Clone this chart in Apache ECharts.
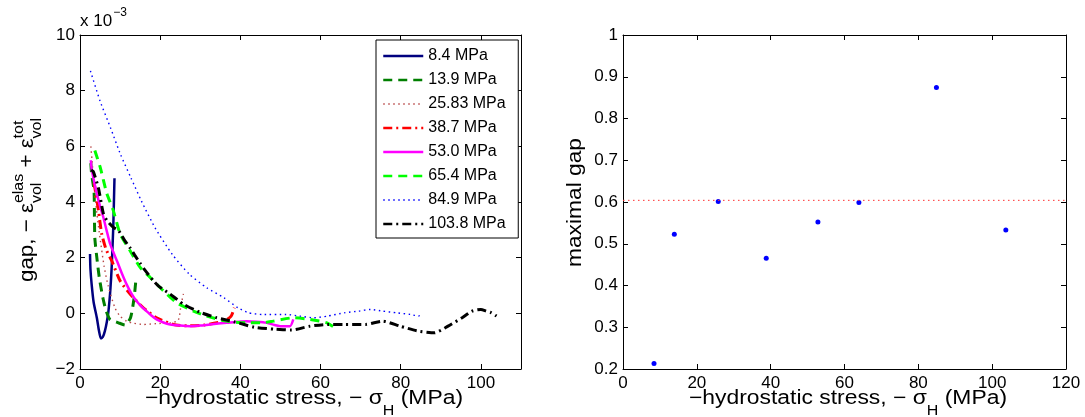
<!DOCTYPE html>
<html><head><meta charset="utf-8">
<script src="https://cdn.jsdelivr.net/npm/echarts@6/dist/echarts.min.js"></script>
<style>html,body{margin:0;padding:0;background:#fff}#c{width:1085px;height:417px}</style>
</head><body><div id="c"></div>
<script>
// ---------- data ----------
const seriesNames = ['8.4 MPa','13.9 MPa','25.83 MPa','38.7 MPa','53.0 MPa','65.4 MPa','84.9 MPa','103.8 MPa'];

const x84 = [2.5, 2.6, 2.9, 3.4, 4.2, 4.7, 5.2, 5.7, 6.2, 6.7, 7.1, 7.6, 7.9, 8.3, 8.6];
const y84 = [2.13, 1.6, 1.05, 0.4, -0.16, -0.6, -0.9, -0.85, -0.64, -0.3, 0.08, 0.9, 1.65, 3.1, 4.85];

const x139 = [2.7, 2.9, 3.5, 3.6, 3.7, 4.2, 4.8, 5.7, 6.5, 7.5, 9.6, 11.2, 12.6, 13.5, 14.0];
const y139 = [5.4, 5.0, 4.4, 3.5, 2.7, 2.0, 1.3, 0.56, 0.1, -0.22, -0.34, -0.42, -0.16, 0.56, 1.3];

const x2583 = [2.7, 3.0, 3.5, 4.2, 5.0, 6.0, 7.0, 8.7, 10.0, 11.6, 13.5, 15.8, 19.0, 22.5, 24.5, 25.2, 25.8];
const y2583 = [6.0, 5.5, 4.6, 3.6, 2.7, 1.7, 1.0, 0.2, -0.1, -0.28, -0.36, -0.4, -0.37, -0.34, -0.25, 0.3, 0.7];

const x387 = [3.5, 4.6, 5.4, 6.5, 7.9, 10.0, 12.5, 15.8, 19.1, 23.3, 27.0, 31.0, 35.9, 37.7, 38.5];
const y387 = [4.7, 3.7, 2.86, 2.3, 1.89, 1.17, 0.69, 0.2, -0.16, -0.4, -0.45, -0.42, -0.28, -0.1, 0.2];

const x530 = [2.7, 2.9, 3.5, 4.2, 5.0, 5.8, 6.6, 7.5, 8.3, 9.2, 10.4, 11.6, 12.8, 14.1, 15.3, 16.6, 17.8, 19.1, 20.8, 22.5, 25.0, 27.5, 30.0, 32.4, 36.6, 41.6, 44.0, 46.6, 48.5, 49.9, 52.4, 53.2];
const y530 = [5.5, 5.2, 4.75, 4.3, 3.85, 3.46, 3.0, 2.5, 2.2, 1.89, 1.45, 1.05, 0.72, 0.44, 0.25, 0.08, -0.08, -0.22, -0.33, -0.4, -0.44, -0.46, -0.44, -0.4, -0.34, -0.28, -0.3, -0.34, -0.42, -0.46, -0.46, -0.22];

const x654 = [3.7, 5.0, 6.7, 8.3, 10.0, 12.5, 15.0, 17.5, 20.8, 24.1, 28.3, 31.6, 36.6, 41.6, 45.4, 48.2, 53.2, 57.4, 61.6, 64.1];
const y654 = [5.85, 5.27, 4.3, 3.7, 2.86, 2.25, 1.65, 1.29, 0.81, 0.38, 0.08, -0.1, -0.28, -0.34, -0.34, -0.28, -0.16, -0.22, -0.34, -0.57];

const x849 = [2.6, 5.0, 7.6, 10.1, 12.7, 15.3, 18.7, 23.0, 27.3, 31.6, 35.9, 39.4, 42.0, 45.4, 51.4, 54.9, 58.3, 61.7, 66.0, 69.5, 72.5, 75.5, 78.9, 82.4, 84.5, 84.9];
const y849 = [8.71, 7.63, 6.67, 5.71, 4.87, 4.04, 3.08, 2.12, 1.4, 0.92, 0.56, 0.2, 0.02, -0.04, -0.04, -0.1, -0.16, -0.1, 0.02, 0.08, 0.14, 0.08, 0.02, -0.04, -0.1, 0.02];

const x1038 = [2.8, 3.3, 4.6, 5.8, 6.7, 8.4, 9.6, 11.0, 12.5, 13.6, 15.0, 16.2, 18.3, 19.6, 22.5, 25.8, 29.9, 34.1, 38.4, 43.5, 48.5, 52.8, 57.4, 61.7, 66.0, 71.2, 75.5, 79.8, 84.1, 88.4, 91.8, 95.3, 97.8, 100.0, 101.3, 102.6, 103.9];
const y1038 = [5.15, 5.1, 4.5, 3.6, 3.34, 3.08, 2.98, 2.65, 2.35, 2.1, 1.8, 1.55, 1.17, 0.98, 0.69, 0.33, 0.04, -0.16, -0.3, -0.5, -0.57, -0.6, -0.46, -0.4, -0.4, -0.4, -0.28, -0.46, -0.63, -0.7, -0.46, -0.16, 0.08, 0.14, 0.08, 0.02, -0.1];

const maxGapX = [8.4, 13.9, 25.8, 38.8, 52.8, 63.9, 84.9, 103.7];
const maxGapY = [0.213, 0.523, 0.601, 0.465, 0.552, 0.599, 0.874, 0.533];
const refLineX = [0, 120];
const refLineY = [0.604, 0.604];

// ---------- styles ----------
const FF = '"Liberation Sans", Arial, Helvetica, sans-serif';
const curveX = [x84, x139, x2583, x387, x530, x654, x849, x1038];
const curveY = [y84, y139, y2583, y387, y530, y654, y849, y1038];
const colors = ['#00007f', '#007f00', '#b84848', '#ff0000', '#ff00ff', '#00ff00', '#0000ff', '#000000'];
const dashes = ['solid', [9, 6], [1.5, 3.5], [9, 4, 2, 4], 'solid', [9, 6], [1.5, 3.5], [9, 4, 2, 4]];
const widths = [2.5, 3, 1.4, 3, 2.5, 3, 1.4, 3];

const zip = (xs, ys) => xs.map((x, i) => [x, ys[i]]);

const mctx = document.createElement('canvas').getContext('2d');
function tw(t, s) { mctx.font = s + 'px ' + FF; return mctx.measureText(t).width; }
function T(text, x, y, s, align) {
  return { type: 'text', x: x, y: y, silent: true,
    style: { text: text, fontSize: s, fontFamily: FF, fill: '#000',
      align: align || 'left', verticalAlign: 'middle', textAlign: align || 'left', textVerticalAlign: 'middle' } };
}
function xTitle(cx, cy, targetW) {
  const a = '−hydrostatic stress, − σ', b = 'H', c = ' (MPa)';
  const M = 20, S = 14;
  const wa = tw(a, M), wb = tw(b, S), wc = tw(c, M);
  const sc = targetW / (wa + wb + wc);
  return { type: 'group', x: cx - targetW / 2, y: cy, scaleX: sc,
    children: [T(a, 0, 0, M), T(b, wa, 12, S), T(c, wa + wb, 0, M)] };
}
function yTitleLeft() {
  const M = 21, S = 15;
  const p1 = 'gap, − ε', p2 = 'elas', p3 = 'vol', p4 = ' + ε', p5 = 'tot', p6 = 'vol';
  const w1 = tw(p1, M), w23 = Math.max(tw(p2, S), tw(p3, S)), w4 = tw(p4, M), w56 = Math.max(tw(p5, S), tw(p6, S));
  const sc = 164 / (w1 + w23 + w4 + w56);
  const sup = -9.1, sub = 9.5;
  return { type: 'group', x: 27.5, y: 282, rotation: Math.PI / 2, scaleX: sc,
    children: [T(p1, 0, 0, M), T(p2, w1, sup, S), T(p3, w1, sub, S),
      T(p4, w1 + w23, 0, M), T(p5, w1 + w23 + w4, sup, S), T(p6, w1 + w23 + w4, sub, S)] };
}
function yTitleRight() {
  const M = 21, t = 'maximal gap';
  const sc = 129 / tw(t, M);
  return { type: 'group', x: 575.5, y: 202.5, rotation: Math.PI / 2, scaleX: sc,
    children: [T(t, 0, 0, M, 'center')] };
}
const multW = tw('x 10', 17);

const minus = v => String(v).replace('-', '−');
function ax(extra) {
  const base = {
    type: 'value',
    axisLine: { show: true, onZero: false, lineStyle: { color: '#000', width: 1 } },
    axisTick: { show: true, inside: true, length: 5, lineStyle: { color: '#000', width: 1 } },
    splitLine: { show: false },
    axisLabel: { show: true, color: '#000', fontSize: 17, fontFamily: FF, margin: 6, formatter: minus }
  };
  const o = Object.assign({}, base, extra);
  if (extra.axisLabel) o.axisLabel = Object.assign({}, base.axisLabel, extra.axisLabel);
  return o;
}

const lineSeries = seriesNames.map((name, i) => ({
  name: name, type: 'line', xAxisIndex: 0, yAxisIndex: 0,
  data: zip(curveX[i], curveY[i]), symbol: 'none', showSymbol: false, smooth: 0.2,
  lineStyle: { color: colors[i], width: widths[i], type: dashes[i], cap: 'butt' },
  itemStyle: { color: colors[i] }, emphasis: { disabled: true }, z: 2 + i
}));

const option = {
  animation: false,
  textStyle: { fontFamily: FF },
  grid: [
    { left: 80, top: 35, width: 441, height: 334 },
    { left: 623, top: 35, width: 443, height: 334 }
  ],
  xAxis: [
    ax({ gridIndex: 0, min: 0, max: 110, interval: 20, position: 'bottom', axisLabel: { showMaxLabel: false } }),
    ax({ gridIndex: 0, min: 0, max: 110, interval: 20, position: 'top', axisLabel: { show: false } }),
    ax({ gridIndex: 1, min: 0, max: 120, interval: 20, position: 'bottom' }),
    ax({ gridIndex: 1, min: 0, max: 120, interval: 20, position: 'top', axisLabel: { show: false } })
  ],
  yAxis: [
    ax({ gridIndex: 0, min: -2, max: 10, interval: 2, position: 'left', axisLabel: { margin: 5 } }),
    ax({ gridIndex: 0, min: -2, max: 10, interval: 2, position: 'right', axisLabel: { show: false } }),
    ax({ gridIndex: 1, min: 0.2, max: 1, interval: 0.1, position: 'left', axisLabel: { margin: 5 } }),
    ax({ gridIndex: 1, min: 0.2, max: 1, interval: 0.1, position: 'right', axisLabel: { show: false } })
  ],
  legend: {
    show: true, orient: 'vertical', left: 376, top: 40,
    backgroundColor: '#fff', borderColor: '#000', borderWidth: 1,
    padding: [8, 6, 6, 6], itemWidth: 40, itemHeight: 14, itemGap: 8,
    selectedMode: false,
    itemStyle: { opacity: 0 },
    textStyle: { fontSize: 16, fontFamily: FF, color: '#000', width: 84, lineHeight: 14 },
    data: seriesNames.map((n, i) => ({ name: n, lineStyle: { width: Math.min(widths[i], 2.5) } }))
  },
  series: lineSeries.concat([
    { type: 'line', xAxisIndex: 2, yAxisIndex: 2, data: zip(refLineX, refLineY), symbol: 'none',
      lineStyle: { color: '#ff3030', width: 1, type: [1.5, 3.5] }, emphasis: { disabled: true }, silent: true },
    { type: 'scatter', xAxisIndex: 2, yAxisIndex: 2, data: zip(maxGapX, maxGapY), symbolSize: 5,
      itemStyle: { color: '#0000ff', opacity: 1 }, emphasis: { disabled: true } }
  ]),
  graphic: [
    T('x 10', 80, 21.5, 17),
    T('−3', 80 + multW + 1, 13, 12),
    xTitle(304, 398.8, 318),
    xTitle(848, 398.8, 318),
    yTitleLeft(),
    yTitleRight()
  ]
};

const chart = echarts.init(document.getElementById('c'), null, { renderer: 'canvas' });
chart.setOption(option);
</script>
</body></html>
